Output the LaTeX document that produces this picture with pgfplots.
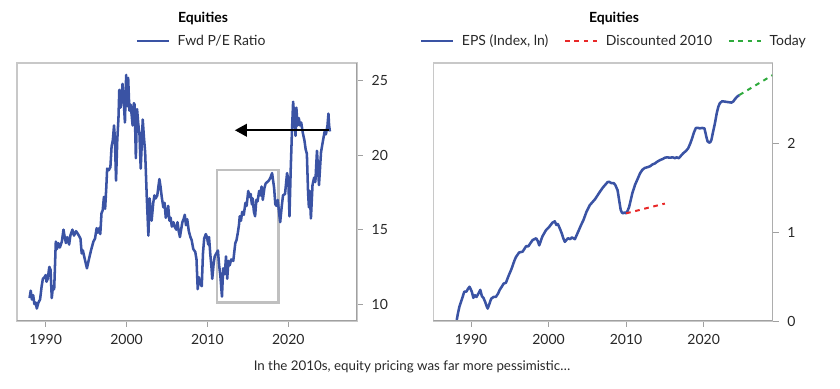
\documentclass[border=0pt]{standalone}
\usepackage{fontspec}
\setmainfont{Lato}
\usepackage{pgfplots}
\pgfplotsset{compat=1.18}
\usetikzlibrary{arrows.meta}
\definecolor{pblue}{RGB}{58,83,164}
\definecolor{pred}{RGB}{232,40,40}
\definecolor{pgreen}{RGB}{46,170,60}
\definecolor{framec}{RGB}{200,200,200}
\definecolor{spinec}{RGB}{160,160,160}
\definecolor{boxc}{RGB}{192,192,192}
\definecolor{txt}{RGB}{40,40,40}

\pgfplotstableread{
x y
1988.0 10.4
1988.15 10.9
1988.3 10.3
1988.45 10.6
1988.6 10.0
1988.75 10.1
1988.9 9.7
1989.1 10.1
1989.3 10.3
1989.5 11.2
1989.65 11.7
1989.85 11.8
1990.0 11.95
1990.1 11.5
1990.25 11.7
1990.45 12.5
1990.6 12.3
1990.75 10.4
1990.9 11.2
1991.05 11.0
1991.25 14.2
1991.4 13.7
1991.55 14.1
1991.75 13.8
1992.0 14.2
1992.2 15.0
1992.35 14.5
1992.5 14.1
1992.65 14.5
1992.9 14.0
1993.05 14.6
1993.3 15.0
1993.5 14.6
1993.75 14.9
1994.0 14.7
1994.3 14.4
1994.45 13.4
1994.6 13.6
1994.8 13.1
1995.1 12.4
1995.3 12.9
1995.6 13.6
1995.9 14.2
1996.1 14.4
1996.3 15.1
1996.45 14.8
1996.6 15.1
1996.75 14.7
1996.9 16.1
1997.05 16.3
1997.2 17.2
1997.35 16.4
1997.5 17.9
1997.6 19.1
1997.8 19.0
1998.0 19.2
1998.15 20.6
1998.3 21.0
1998.45 22.0
1998.55 21.2
1998.7 18.3
1998.85 21.0
1999.0 22.5
1999.1 24.4
1999.25 23.2
1999.4 23.9
1999.5 24.8
1999.65 23.6
1999.8 22.2
1999.95 25.4
2000.1 23.3
2000.2 25.2
2000.35 23.0
2000.5 23.4
2000.65 22.6
2000.75 22.0
2000.9 23.5
2001.0 23.4
2001.15 19.8
2001.3 23.1
2001.45 22.1
2001.6 21.4
2001.75 19.1
2001.9 21.0
2002.0 22.4
2002.15 21.2
2002.3 20.2
2002.5 17.2
2002.7 14.6
2002.85 17.1
2003.0 16.2
2003.1 15.6
2003.3 16.8
2003.45 17.3
2003.6 17.1
2003.8 17.3
2004.06 18.4
2004.2 17.9
2004.35 17.2
2004.55 16.5
2004.7 16.8
2004.85 15.8
2005.0 16.0
2005.15 16.6
2005.3 15.6
2005.45 15.8
2005.6 15.2
2005.8 15.5
2005.95 15.2
2006.15 15.0
2006.3 15.5
2006.45 14.9
2006.6 14.5
2006.75 15.0
2006.9 15.5
2007.05 15.7
2007.2 16.0
2007.35 15.3
2007.5 15.7
2007.7 14.9
2007.9 14.5
2008.05 14.3
2008.25 13.7
2008.5 13.5
2008.65 13.0
2008.8 11.0
2008.95 11.8
2009.1 11.4
2009.3 11.2
2009.45 13.4
2009.6 14.4
2009.8 14.7
2009.95 14.5
2010.1 14.0
2010.2 14.5
2010.35 13.4
2010.5 12.5
2010.6 11.7
2010.75 12.6
2010.9 13.2
2011.1 13.4
2011.3 13.6
2011.45 12.6
2011.6 11.9
2011.8 10.5
2011.95 12.4
2012.15 12.0
2012.3 13.2
2012.45 11.7
2012.6 12.9
2012.75 12.6
2012.95 13.0
2013.2 12.9
2013.45 14.1
2013.6 14.3
2013.75 14.75
2013.9 15.3
2014.0 15.9
2014.15 15.6
2014.3 16.2
2014.5 16.0
2014.7 16.8
2014.85 16.6
2015.05 17.6
2015.2 17.2
2015.35 17.4
2015.5 16.7
2015.6 17.1
2015.75 16.2
2015.9 15.9
2016.05 17.0
2016.2 16.9
2016.4 17.6
2016.55 17.3
2016.7 17.9
2016.85 17.0
2017.05 17.8
2017.2 18.1
2017.4 18.2
2017.6 18.3
2017.8 18.5
2018.0 18.8
2018.1 18.4
2018.25 17.8
2018.4 16.7
2018.55 16.6
2018.7 17.0
2018.85 16.2
2019.0 15.5
2019.2 16.6
2019.35 17.3
2019.6 17.4
2019.85 18.8
2020.0 18.4
2020.15 15.9
2020.3 19.0
2020.45 21.5
2020.6 23.6
2020.75 22.5
2020.9 21.3
2021.0 23.2
2021.15 22.0
2021.3 22.5
2021.45 22.0
2021.6 22.2
2021.8 21.5
2022.0 21.0
2022.15 20.4
2022.3 20.1
2022.45 17.5
2022.55 16.5
2022.65 17.6
2022.8 15.75
2023.0 18.0
2023.2 18.5
2023.35 18.2
2023.55 20.3
2023.8 18.0
2024.05 20.2
2024.3 21.0
2024.5 21.6
2024.65 21.4
2024.85 22.0
2024.97 22.8
2025.05 22.0
2025.15 21.6
}\petable

\pgfplotstableread{
x y
1988.16 0.01
1988.3 0.08
1988.5 0.16
1988.8 0.24
1989.14 0.33
1989.4 0.33
1989.6 0.36
1989.8 0.385
1990.0 0.35
1990.1 0.33
1990.3 0.26
1990.5 0.29
1990.7 0.27
1990.9 0.30
1991.2 0.35
1991.4 0.28
1991.6 0.26
1991.8 0.22
1992.0 0.17
1992.15 0.14
1992.4 0.20
1992.6 0.25
1992.9 0.27
1993.2 0.27
1993.5 0.31
1993.7 0.35
1994.0 0.39
1994.2 0.42
1994.5 0.43
1994.9 0.52
1995.2 0.58
1995.4 0.63
1995.6 0.68
1995.8 0.72
1996.2 0.77
1996.66 0.78
1997.1 0.84
1997.4 0.84
1997.7 0.88
1997.95 0.91
1998.4 0.93
1998.6 0.90
1998.8 0.85
1999.0 0.90
1999.2 0.95
1999.66 1.02
2000.1 1.06
2000.5 1.105
2000.8 1.12
2001.0 1.08
2001.2 1.09
2001.5 1.03
2001.7 0.985
2001.9 0.93
2002.1 0.89
2002.3 0.91
2002.5 0.93
2002.8 0.92
2003.0 0.94
2003.4 0.92
2003.85 1.01
2004.2 1.08
2004.5 1.135
2004.9 1.23
2005.3 1.30
2005.6 1.33
2006.0 1.37
2006.3 1.41
2006.6 1.45
2007.0 1.50
2007.3 1.53
2007.6 1.56
2007.8 1.565
2008.1 1.55
2008.4 1.55
2008.6 1.53
2008.9 1.47
2009.1 1.36
2009.3 1.25
2009.45 1.22
2009.6 1.21
2009.8 1.22
2010.0 1.21
2010.2 1.24
2010.4 1.285
2010.6 1.36
2010.8 1.435
2011.15 1.53
2011.5 1.60
2011.8 1.66
2012.1 1.70
2012.4 1.72
2012.8 1.73
2013.1 1.74
2013.4 1.76
2013.7 1.77
2014.0 1.79
2014.4 1.81
2014.7 1.82
2015.0 1.835
2015.3 1.84
2015.65 1.835
2016.0 1.84
2016.3 1.83
2016.5 1.84
2016.8 1.83
2017.1 1.86
2017.36 1.885
2017.7 1.91
2018.0 1.94
2018.25 1.99
2018.5 2.05
2018.75 2.12
2019.0 2.17
2019.3 2.17
2019.5 2.165
2019.8 2.17
2020.1 2.165
2020.25 2.11
2020.35 2.07
2020.5 2.02
2020.7 2.005
2020.85 2.01
2021.0 2.035
2021.2 2.12
2021.45 2.22
2021.7 2.34
2021.9 2.41
2022.1 2.45
2022.4 2.47
2022.8 2.465
2023.16 2.46
2023.6 2.455
2023.85 2.47
2024.0 2.49
2024.3 2.52
2024.6 2.54
}\epstable

\pgfplotsset{
  mystyle/.style={
    scale only axis,
    anchor=south west,
    axis line style={draw=framec, line width=0.8pt},
    tick style={draw=spinec, line width=0.6pt},
    tick align=outside,
    major tick length=4.5pt,
    xtick pos=bottom,
    ytick pos=right,
    yticklabel pos=right,
    xtick={1990,2000,2010,2020},
    /pgf/number format/1000 sep={},
    /pgf/number format/assume math mode=true,
    tick label style={font=\fontsize{10.5}{12}\selectfont, text=txt},
    xticklabel style={yshift=-2pt},
    yticklabel style={xshift=3pt},
    legend style={draw=none, fill=none, legend columns=-1,
      font=\fontsize{10.5}{12}\selectfont, text=txt,
      /tikz/every odd column/.append style={column sep=5pt},
      /tikz/every even column/.append style={column sep=11pt},
      nodes={inner sep=1pt, anchor=west}},
    legend image code/.code={\draw[##1, line width=1.1pt] (0pt,0pt) -- (24pt,0pt);},
  }
}

\begin{document}
\begin{tikzpicture}
\path[use as bounding box] (0pt,0pt) rectangle (630pt,291.75pt);

% ---------- left panel ----------
\begin{axis}[mystyle,
  at={(12.75pt,51pt)}, width=255pt, height=193.5pt,
  xmin=1986.45, xmax=2028.5, ymin=8.86, ymax=26.2,
  ytick={10,15,20,25},
  legend style={at={(0.5426,1)}, anchor=center, yshift=16.5pt},
]
\addlegendimage{pblue, line width=2pt}
\addlegendentry{Fwd P/E Ratio}
\draw[boxc, line width=2pt] (axis cs:2011.2,10.1) rectangle (axis cs:2018.8,19.0);
\addplot[pblue, line width=1.9pt, line join=round, forget plot] table[x=x,y=y] {\petable};
\draw[black, line width=1.5pt, -{Triangle[length=9pt,width=9.5pt]}] (axis cs:2025.0,21.68) -- (axis cs:2013.4,21.68);
\draw[spinec, line width=0.8pt] (rel axis cs:0,0) -- (rel axis cs:1,0) -- (rel axis cs:1,1);
\end{axis}

% ---------- right panel ----------
\begin{axis}[mystyle,
  at={(325pt,51pt)}, width=254.5pt, height=193.5pt,
  xmin=1985.14, xmax=2028.9, ymin=0, ymax=2.9,
  ytick={0,1,2},
  legend style={at={(0.532,1)}, anchor=center, yshift=16.5pt},
]
\addplot[pblue, line width=1.9pt, line join=round] table[x=x,y=y] {\epstable};
\addlegendentry{EPS (Index, ln)}
\addplot[pred, line width=1.5pt, dash pattern=on 3.5pt off 3.5pt] coordinates {(2010.0,1.21) (2015.0,1.32)};
\addlegendentry{Discounted 2010}
\addplot[pgreen, line width=1.5pt, dash pattern=on 3.5pt off 3.5pt] coordinates {(2024.6,2.54) (2028.9,2.764)};
\addlegendentry{Today}
\draw[spinec, line width=0.8pt] (rel axis cs:0,0) -- (rel axis cs:1,0) -- (rel axis cs:1,1);
\end{axis}

% titles and caption
\node[font=\bfseries\fontsize{10.5}{12}\selectfont, text=black] at (152.25pt,278.25pt) {Equities};
\node[font=\bfseries\fontsize{10.5}{12}\selectfont, text=black] at (460.5pt,278.25pt) {Equities};
\node[font=\fontsize{10}{12}\selectfont, text=txt] at (309pt,16.5pt) {In the 2010s, equity pricing was far more pessimistic…};
\end{tikzpicture}
\end{document}
